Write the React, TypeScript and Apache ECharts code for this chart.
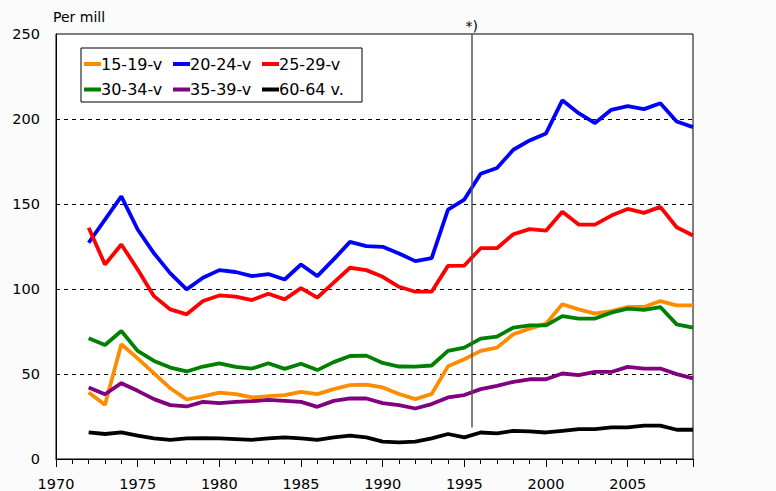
import React, { useEffect, useRef } from "react";
import * as echarts from "echarts";

const years = [
  1972, 1973, 1974, 1975, 1976, 1977, 1978, 1979, 1980, 1981, 1982, 1983, 1984,
  1985, 1986, 1987, 1988, 1989, 1990, 1991, 1992, 1993, 1994, 1995, 1996, 1997,
  1998, 1999, 2000, 2001, 2002, 2003, 2004, 2005, 2006, 2007, 2008, 2009,
];

const names = ["15-19-v", "20-24-v", "25-29-v", "30-34-v", "35-39-v", "60-64 v."];
const colors = ["#FF8C00", "#0000FF", "#FF0000", "#008000", "#800080", "#000000"];

const age15_19 = [
  39.1, 31.9, 67.5, 59.2, 50.4, 41.6, 35, 36.8, 39.1, 38.2, 36.2, 37, 37.6,
  39.5, 38.2, 41.1, 43.4, 43.8, 42.1, 38.2, 35.2, 38.2, 54.5, 58.7, 63.6, 65.5,
  73.4, 76.7, 79.6, 91, 88, 85.5, 87, 89.4, 89.4, 92.9, 90.4, 90.4,
];
const age20_24 = [
  127.2, 140.8, 154.5, 135, 121, 109.2, 99.8, 106.6, 111.1, 110, 107.6, 108.8,
  105.6, 114.4, 107.6, 117.4, 127.7, 125.2, 124.8, 120.9, 116.4, 118.2, 146.7,
  152.6, 167.8, 171.2, 181.9, 187.4, 191.5, 211, 203.4, 197.6, 205.4, 207.6,
  205.8, 209.3, 198.5, 195.2,
];
const age25_29 = [
  136, 114.4, 126.2, 111.5, 95.8, 88, 85.1, 92.9, 96.2, 95.5, 93.5, 97.2, 93.9,
  100.5, 94.9, 103.7, 112.5, 111.1, 107.2, 101.3, 98.4, 98.4, 113.6, 113.8, 124,
  124, 132.2, 135.2, 134.3, 145.5, 137.9, 137.9, 143.2, 147.1, 144.8, 148.3,
  136.3, 131.5,
];
const age30_34 = [
  71, 67.1, 75.3, 63.6, 57.7, 53.8, 51.5, 54.4, 56.3, 54.2, 53.2, 56.3, 53, 56,
  52.3, 57, 60.6, 60.8, 56.5, 54.4, 54.3, 55, 63.6, 65.5, 70.8, 72, 77.3, 78.6,
  78.6, 84.1, 82.6, 82.6, 86.1, 88.4, 87.7, 89.4, 79.2, 77.3,
];
const age35_39 = [
  42.1, 38.1, 44.6, 40.1, 35.2, 31.7, 30.9, 33.6, 32.9, 33.6, 34, 34.8, 34.2,
  33.6, 30.7, 34.2, 35.6, 35.6, 32.9, 31.7, 29.7, 32.3, 36.2, 37.6, 41.1, 43,
  45.4, 46.9, 46.9, 50.3, 49.3, 51.2, 51.2, 54.2, 53.2, 53.2, 49.9, 47.4,
];
const age60_64 = [
  15.6, 14.7, 15.6, 13.7, 12.1, 11.3, 12.1, 12.3, 12.1, 11.7, 11.3, 12.1, 12.7,
  12.1, 11.2, 12.7, 13.7, 12.7, 10.2, 9.8, 10.2, 12.1, 14.7, 12.7, 15.6, 15.1,
  16.6, 16.3, 15.6, 16.6, 17.6, 17.6, 18.6, 18.6, 19.6, 19.6, 17.2, 17.2,
];

const seriesValues = [age15_19, age20_24, age25_29, age30_34, age35_39, age60_64];

// break marker (statistics change)
const breakYear = 1995.45;
const breakTop = 250;
const breakBottom = 18.5;
const breakLabel = "*)";

const FONT = "DejaVu Sans";

export default function App() {
  const ref = useRef<HTMLDivElement>(null);

  useEffect(() => {
    if (!ref.current) return;
    const chart = echarts.init(ref.current, undefined, { renderer: "svg" });

    const legendPos = [
      [84, 56],
      [173, 56],
      [262, 56],
      [84, 81.5],
      [173, 81.5],
      [262, 81.5],
    ];

    const legends = names.map((n, i) => ({
      show: true,
      data: [n],
      left: legendPos[i][0],
      top: legendPos[i][1],
      padding: 0,
      icon: "rect",
      itemWidth: 17,
      itemHeight: 4,
      selectedMode: false,
      textStyle: {
        fontFamily: FONT,
        fontSize: 16,
        color: "#000",
        padding: [0, 0, 0, -5],
      },
    }));

    const series: any[] = seriesValues.map((vals, i) => ({
      name: names[i],
      type: "line",
      data: years.map((y, k) => [y, vals[k]]),
      showSymbol: false,
      symbol: "none",
      lineStyle: { width: 3.8, color: colors[i] },
      itemStyle: { color: colors[i] },
      z: 3,
    }));

    series.push({
      name: "break",
      type: "line",
      data: [],
      silent: true,
      markLine: {
        silent: true,
        symbol: ["none", "none"],
        lineStyle: { color: "#555", width: 1.5, type: "solid" },
        label: {
          show: true,
          position: "start",
          formatter: breakLabel,
          color: "#000",
          fontFamily: FONT,
          fontSize: 14,
          distance: 1,
        },
        data: [
          [
            { coord: [breakYear, breakTop] },
            { coord: [breakYear, breakBottom] },
          ],
        ],
      },
      z: 2,
    });

    chart.setOption({
      animation: false,
      backgroundColor: "#fbfbfb",
      grid: {
        left: 56,
        top: 34,
        right: 83,
        bottom: 31,
        show: true,
        backgroundColor: "#ffffff",
        borderColor: "#000",
        borderWidth: 1,
      },
      legend: legends,
      graphic: [
        {
          type: "rect",
          shape: { x: 81, y: 48, width: 281, height: 54 },
          style: { fill: "none", stroke: "#000", lineWidth: 1 },
          z: 10,
        },
        {
          type: "text",
          left: 53,
          top: 10,
          style: {
            text: "Per mill",
            fontFamily: FONT,
            fontSize: 14,
            fill: "#000",
          },
        },
      ],
      xAxis: [
        {
          type: "value",
          min: 1970,
          max: 2009,
          interval: 1,
          axisLine: { show: true, lineStyle: { color: "#000", width: 1 } },
          axisTick: { show: true, length: 5, lineStyle: { color: "#000" } },
          axisLabel: {
            margin: 17,
            fontFamily: FONT,
            fontSize: 14.5,
            color: "#000",
            formatter: (v: number) => (v % 5 === 0 ? String(v) : ""),
          },
          splitLine: { show: false },
        },
        {
          type: "value",
          min: 1970,
          max: 2009,
          interval: 5,
          position: "bottom",
          axisLine: { show: false },
          axisTick: { show: true, length: 8, lineStyle: { color: "#000" } },
          axisLabel: { show: false },
          splitLine: { show: false },
        },
      ],
      yAxis: {
        type: "value",
        min: 0,
        max: 250,
        interval: 50,
        axisLine: { show: true, lineStyle: { color: "#000", width: 1 } },
        axisTick: { show: false },
        axisLabel: {
          margin: 16,
          fontFamily: FONT,
          fontSize: 14.5,
          color: "#000",
        },
        splitLine: {
          show: true,
          showMinLine: false,
          showMaxLine: false,
          lineStyle: { color: "#000", type: [4, 4], width: 1 },
        },
      },
      series,
    });

    return () => chart.dispose();
  }, []);

  return (
    <div
      ref={ref}
      style={{ position: "fixed", left: 0, top: 0, width: 776, height: 491 }}
    />
  );
}
